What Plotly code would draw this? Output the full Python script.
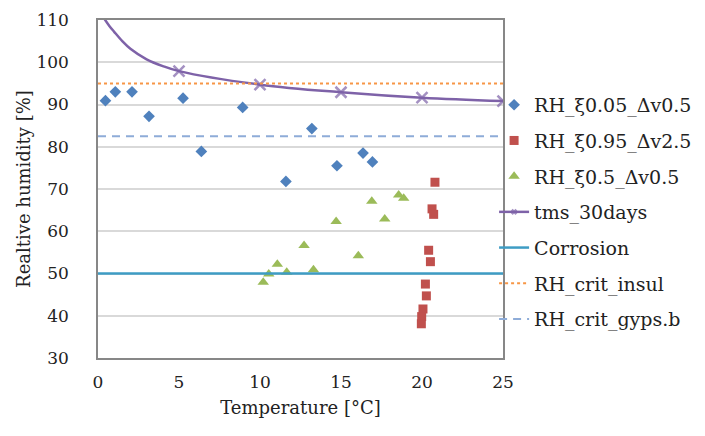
import plotly.graph_objects as go

FONT = "DejaVu Serif"

# Data
blue_x = [0.46, 1.07, 2.10, 3.15, 5.25, 6.38, 8.93, 11.6, 13.2, 14.75, 16.36, 16.94]
blue_y = [90.9, 93.0, 93.0, 87.2, 91.5, 78.9, 89.3, 71.8, 84.3, 75.5, 78.5, 76.4]

red_x = [20.80, 20.62, 20.72, 20.41, 20.52, 20.21, 20.27, 20.06, 19.98, 19.96]
red_y = [71.6, 65.3, 64.0, 55.5, 52.8, 47.5, 44.7, 41.6, 39.8, 38.1]

green_x = [10.2, 10.54, 11.07, 11.65, 12.72, 13.3, 14.7, 16.07, 16.9, 17.7, 18.56, 18.87]
green_y = [47.9, 49.9, 52.2, 50.3, 56.6, 50.9, 62.3, 54.2, 67.1, 62.9, 68.6, 67.8]

tms_x = [0.3, 0.7, 1.0, 1.5, 2.0, 3.0, 4.0, 5, 10, 15, 20, 25]
tms_y = [110.8, 108.6, 107.2, 105.0, 103.2, 100.7, 99.1, 97.9, 94.7, 92.9, 91.6, 90.8]
tms_marked = [False, False, False, False, False, False, False, True, True, True, True, True]

corrosion = 50
rh_crit_insul = 95
rh_crit_gyps = 82.5
x_range = [0, 25]

fig = go.Figure()

fig.add_trace(go.Scatter(x=blue_x, y=blue_y, mode="markers", name="RH_ξ0.05_Δv0.5",
                         marker=dict(symbol="diamond", size=9, color="#4F81BD"),
                         legendgroup="a"))
fig.add_trace(go.Scatter(x=red_x, y=red_y, mode="markers", name="RH_ξ0.95_Δv2.5",
                         marker=dict(symbol="square", size=9, color="#C0504D"),
                         legendgroup="b"))
fig.add_trace(go.Scatter(x=green_x, y=green_y, mode="markers", name="RH_ξ0.5_Δv0.5",
                         marker=dict(symbol="triangle-up", size=10, color="#9BBB59"),
                         legendgroup="c"))
fig.add_trace(go.Scatter(x=tms_x, y=tms_y, mode="lines+markers", name="tms_30days",
                         line=dict(color="#7E62A8", width=2.5, shape="spline", smoothing=1.0),
                         marker=dict(symbol="x-thin-open", size=[11 if m else 0 for m in tms_marked],
                                     color="#7E62A8", line=dict(width=2.5, color="#7E62A8")),
                         legendgroup="d"))
fig.add_trace(go.Scatter(x=x_range, y=[corrosion, corrosion], mode="lines", name="Corrosion",
                         line=dict(color="#3E9CC4", width=2.5), legendgroup="e"))
fig.add_trace(go.Scatter(x=x_range, y=[rh_crit_insul, rh_crit_insul], mode="lines", name="RH_crit_insul",
                         line=dict(color="#F79646", width=2, dash="dot"), legendgroup="f"))
fig.add_trace(go.Scatter(x=x_range, y=[rh_crit_gyps, rh_crit_gyps], mode="lines", name="RH_crit_gyps.b",
                         line=dict(color="#8EACD8", width=2, dash="8px,6px"), legendgroup="g"))

fig.update_layout(
    width=705, height=436,
    margin=dict(l=98, r=202, t=20, b=78, autoexpand=False),
    paper_bgcolor="white", plot_bgcolor="white",
    font=dict(family=FONT, size=17, color="#222222"),
    showlegend=True,
    legend=dict(x=0.978, y=0.805, xanchor="left", yanchor="top",
                font=dict(family=FONT, size=19, color="#222222"),
                tracegroupgap=8, itemwidth=30, bgcolor="rgba(0,0,0,0)"),
    xaxis=dict(range=[0, 25], tickvals=[0, 5, 10, 15, 20, 25], showgrid=False,
               showline=True, linecolor="#878787", linewidth=1.5, mirror=True,
               zeroline=False, ticks="", ticklabelstandoff=8,
               title=dict(text="Temperature [°C]", standoff=10, font=dict(size=18))),
    yaxis=dict(range=[30, 110], tickvals=[30, 40, 50, 60, 70, 80, 90, 100, 110],
               showgrid=True, gridcolor="#D9D9D9", gridwidth=1.5,
               showline=True, linecolor="#878787", linewidth=1.5, mirror=True,
               zeroline=False, ticks="", ticklabelstandoff=24,
               title=dict(text="Realtive humidity [%]", standoff=1, font=dict(size=18))),
)

fig.write_html("out.html")
